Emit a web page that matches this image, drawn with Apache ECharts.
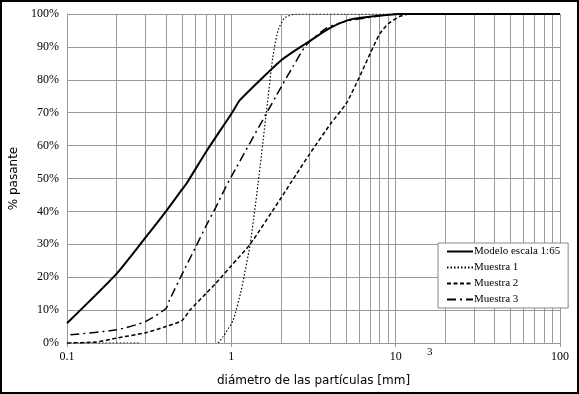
<!DOCTYPE html>
<html>
<head>
<meta charset="utf-8">
<script src="https://cdn.jsdelivr.net/npm/echarts@6/dist/echarts.min.js"></script>
<style>
  html, body { margin: 0; padding: 0; background: #fff; }
  #chart { width: 579px; height: 394px; }
</style>
</head>
<body>
<div id="chart"></div>
<script>
// curvas granulométricas [diámetro mm, % pasante]
const modelo = [[0.1, 6], [0.2, 21], [0.3, 32], [0.4, 40], [0.5, 46.6], [0.534, 48.5], [0.7, 58],
  [1.02, 70.3], [1.13, 73.9], [2.02, 86], [2.6, 89.8], [3.0, 91.8], [3.97, 95.7],
  [5.25, 98.3], [7, 99.2], [9.2, 99.8], [10.5, 100], [100, 100]]
const muestra1 = [[0.1, 0], [0.28, 0], [0.5, '-'], [0.83, 0], [0.89, 1.9], [1.026, 7], [1.15, 16.2],
  [1.3, 29.9], [1.455, 48.5], [1.64, 70.8], [1.79, 87.1], [1.93, 95.2], [2.11, 98.8], [2.49, 100],
  [100, 100]]
const muestra2 = [[0.1, 0], [0.15, 0.3], [0.2, 1.5], [0.3, 3.1], [0.4, 5], [0.5, 6.8], [0.56, 10],
  [0.7, 15], [0.8, 18], [1.0, 23.5], [1.3, 30], [2.0, 44], [2.5, 51.5], [3.0, 57.5], [4, 66.5],
  [5, 72.8], [6, 80.7], [7, 88], [8, 94], [9, 97], [10.6, 99.3], [12.2, 100], [100, 100]]
const muestra3 = [[0.105, 2.5], [0.2, 4], [0.3, 6.5], [0.4, 10.5], [0.42, 13], [0.5, 20.8],
  [0.6, 28.7], [0.7, 35.5], [0.8, 41], [0.9, 46.2], [1.0, 50.6], [2.02, 78], [2.37, 84],
  [2.86, 90.6], [3.79, 95.7], [5, 97.8], [7, 99], [10, 100], [100, 100]]
const minorLines = [0.2, 0.3, 0.4, 0.5, 0.6, 0.7, 0.8, 0.9, 2, 3, 4, 5, 6, 7, 8, 9,
  20, 30, 40, 50, 60, 70, 80, 90]

const serif = '"Liberation Serif", "DejaVu Serif", serif'
const sans = '"DejaVu Sans", "Noto Sans", sans-serif'

const chart = echarts.init(document.getElementById('chart'))
const option = {
  animation: false,
  backgroundColor: '#fff',
  grid: { left: 67, right: 19, top: 14, bottom: 51 },
  legend: {
    orient: 'vertical',
    left: 438,
    top: 243,
    width: 122,
    padding: [3, 8, 3, 8],
    itemGap: 5,
    itemWidth: 26,
    itemHeight: 12,
    backgroundColor: '#fff',
    borderColor: '#888',
    borderWidth: 1,
    itemStyle: { opacity: 0 },
    textStyle: { fontFamily: serif, fontSize: 11, color: '#000', padding: [0, 0, 0, -4] },
    data: ['Modelo escala 1:65', 'Muestra 1', 'Muestra 2', 'Muestra 3']
  },
  xAxis: {
    type: 'log',
    logBase: 10,
    min: 0.1,
    max: 100,
    name: 'diámetro de las partículas [mm]',
    nameLocation: 'middle',
    nameGap: 32,
    nameTextStyle: { fontFamily: sans, fontSize: 12, color: '#000' },
    axisLine: { lineStyle: { color: '#999' } },
    axisTick: { show: true, length: 4, lineStyle: { color: '#999' } },
    axisLabel: {
      fontFamily: serif, fontSize: 12, color: '#000', margin: 8,
      formatter: v => String(v)
    },
    splitLine: { show: true, lineStyle: { color: '#999', width: 1 } }
  },
  yAxis: {
    type: 'value',
    min: 0,
    max: 100,
    interval: 10,
    name: '% pasante',
    nameLocation: 'middle',
    nameGap: 45,
    nameTextStyle: { fontFamily: sans, fontSize: 12, color: '#000' },
    axisLine: { show: true, lineStyle: { color: '#999' } },
    axisTick: { show: false },
    axisLabel: { fontFamily: serif, fontSize: 12, color: '#000', margin: 8, formatter: '{value}%' },
    splitLine: { show: true, lineStyle: { color: '#999', width: 1 } }
  },
  graphic: [
    {
      type: 'rect',
      shape: { x: 1, y: 1, width: 577, height: 392 },
      style: { fill: 'none', stroke: '#000', lineWidth: 2 },
      silent: true
    },
    {
      type: 'text',
      left: 427,
      top: 347,
      style: { text: '3', font: '11px ' + serif, fill: '#000' }
    }
  ],
  series: [
    {
      name: 'Modelo escala 1:65',
      type: 'line',
      data: modelo,
      symbol: 'none',
      smooth: 0.2,
      z: 5,
      lineStyle: { color: '#000', width: 2, type: 'solid' },
      itemStyle: { color: '#000' },
      markLine: {
        silent: true,
        symbol: 'none',
        label: { show: false },
        lineStyle: { color: '#999', width: 1, type: 'solid' },
        z: 1,
        data: minorLines.map(v => ({ xAxis: v }))
      }
    },
    {
      name: 'Muestra 1',
      type: 'line',
      data: muestra1,
      symbol: 'none',
      smooth: 0.2,
      connectNulls: false,
      z: 4,
      lineStyle: { color: '#000', width: 1.2, type: [1.5, 2] },
      itemStyle: { color: '#000' }
    },
    {
      name: 'Muestra 2',
      type: 'line',
      data: muestra2,
      symbol: 'none',
      smooth: 0.2,
      z: 4,
      lineStyle: { color: '#000', width: 1.5, type: [4, 2.5] },
      itemStyle: { color: '#000' }
    },
    {
      name: 'Muestra 3',
      type: 'line',
      data: muestra3,
      symbol: 'none',
      smooth: 0.2,
      z: 4,
      lineStyle: { color: '#000', width: 1.5, type: [9, 4, 2, 4] },
      itemStyle: { color: '#000' }
    }
  ]
}
chart.setOption(option)
</script>
</body>
</html>
